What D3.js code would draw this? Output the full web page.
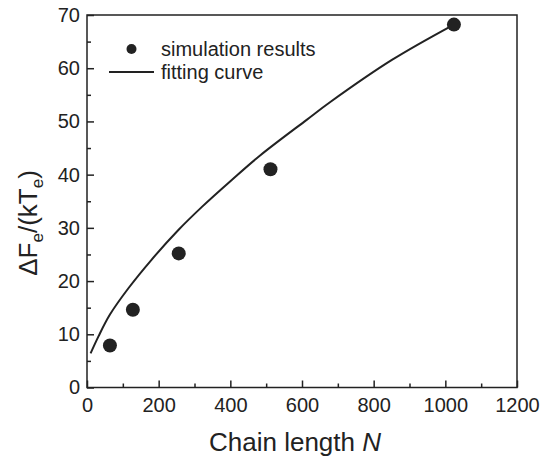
<!DOCTYPE html>
<html><head><meta charset="utf-8">
<script src="https://cdn.jsdelivr.net/npm/d3@7"></script>
<style>body{margin:0;background:#fff}svg{display:block}</style>
</head><body>
<svg id="c" width="540" height="460"></svg>
<script>
const simN = [64, 128, 256, 512, 1024];
const simF = [7.9, 14.6, 25.2, 41.0, 68.2];
const fitN = [10, 32, 64, 115, 180, 255, 320, 404, 483, 613, 678, 852, 1024];
const fitF = [6.4, 9.6, 13.7, 18.6, 24.0, 29.6, 33.9, 39.0, 43.6, 50.3, 53.6, 61.6, 68.2];
const xTicks = [0, 200, 400, 600, 800, 1000, 1200];
const yTicks = [0, 10, 20, 30, 40, 50, 60, 70];

const col = "#222";
const svg = d3.select("#c");
const L = 87, R = 517, T = 15, B = 387.5;
const x = d3.scaleLinear().domain([0, 1200]).range([L, R]);
const y = d3.scaleLinear().domain([0, 70]).range([B, T]);
const font = "Liberation Sans, Arial, sans-serif";

// frame
svg.append("rect").attr("x", L).attr("y", T).attr("width", R - L).attr("height", B - T)
  .attr("fill", "none").attr("stroke", col).attr("stroke-width", 1.5);

// x axis
const xa = svg.append("g").attr("transform", `translate(0,${B})`)
  .call(d3.axisBottom(x).tickValues(xTicks).tickSize(-7).tickPadding(10).tickFormat(d3.format("d")));
xa.select(".domain").remove();
xa.selectAll("line").attr("stroke", col).attr("stroke-width", 1.5);
xa.selectAll("text").attr("font-family", font).attr("font-size", 20).attr("fill", col);
const xm = svg.append("g").attr("transform", `translate(0,${B})`)
  .call(d3.axisBottom(x).tickValues(d3.range(100, 1200, 200)).tickSize(-4).tickFormat(""));
xm.select(".domain").remove();
xm.selectAll("line").attr("stroke", col).attr("stroke-width", 1.5);

// y axis
const ya = svg.append("g").attr("transform", `translate(${L},0)`)
  .call(d3.axisLeft(y).tickValues(yTicks).tickSize(-7).tickPadding(7).tickFormat(d3.format("d")));
ya.select(".domain").remove();
ya.selectAll("line").attr("stroke", col).attr("stroke-width", 1.5);
ya.selectAll("text").attr("font-family", font).attr("font-size", 20).attr("fill", col);
const ym = svg.append("g").attr("transform", `translate(${L},0)`)
  .call(d3.axisLeft(y).tickValues(d3.range(5, 70, 10)).tickSize(-4).tickFormat(""));
ym.select(".domain").remove();
ym.selectAll("line").attr("stroke", col).attr("stroke-width", 1.5);

// fit curve
const fit = fitN.map((n, i) => [n, fitF[i]]);
svg.append("path").datum(fit)
  .attr("d", d3.line().x(d => x(d[0])).y(d => y(d[1])).curve(d3.curveCatmullRom))
  .attr("fill", "none").attr("stroke", col).attr("stroke-width", 2);

// points
svg.selectAll("circle.p").data(simN.map((n, i) => [n, simF[i]])).enter()
  .append("circle").attr("class", "p")
  .attr("cx", d => x(d[0])).attr("cy", d => y(d[1])).attr("r", 7).attr("fill", col);

// legend
svg.append("circle").attr("cx", 131.5).attr("cy", 49).attr("r", 5).attr("fill", col);
svg.append("text").attr("x", 161).attr("y", 56).attr("font-family", font).attr("font-size", 20)
  .attr("fill", col).text("simulation results");
svg.append("line").attr("x1", 109).attr("x2", 154).attr("y1", 72).attr("y2", 72)
  .attr("stroke", col).attr("stroke-width", 2);
svg.append("text").attr("x", 161).attr("y", 79).attr("font-family", font).attr("font-size", 20)
  .attr("fill", col).text("fitting curve");

// x title
const xt = svg.append("text").attr("x", 295).attr("y", 451).attr("text-anchor", "middle")
  .attr("font-family", font).attr("font-size", 26).attr("fill", col);
xt.append("tspan").text("Chain length ");
xt.append("tspan").attr("font-style", "italic").text("N");

// y title
const yt = svg.append("text").attr("transform", "translate(37,223) rotate(-90)")
  .attr("text-anchor", "middle").attr("font-family", font).attr("font-size", 26).attr("fill", col);
yt.append("tspan").text("ΔF");
yt.append("tspan").attr("font-size", 17).attr("dy", 6).text("e");
yt.append("tspan").attr("dy", -6).text("/(kT");
yt.append("tspan").attr("font-size", 17).attr("dy", 6).text("e");
yt.append("tspan").attr("dy", -6).text(")");
</script>
</body></html>
